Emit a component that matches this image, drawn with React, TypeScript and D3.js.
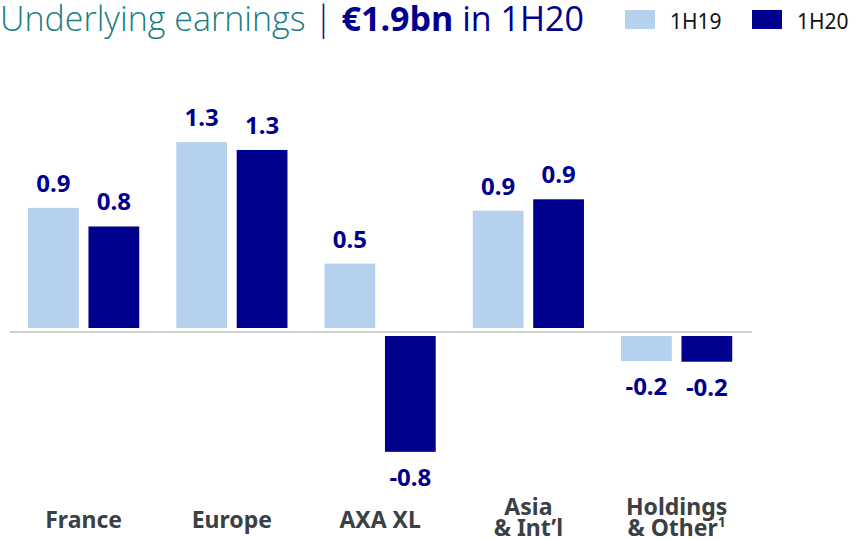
import { useEffect } from "react";
import * as d3 from "d3";

const categories = ["France", "Europe", "AXA XL", "Asia\n& Int\u2019l", "Holdings\n& Other"];
const seriesNames = ["1H19", "1H20"];
const values1H19 = [0.84, 1.3, 0.45, 0.82, -0.175];
const values1H20 = [0.71, 1.245, -0.81, 0.9, -0.18];
const labels1H19 = ["0.9", "1.3", "0.5", "0.9", "-0.2"];
const labels1H20 = ["0.8", "1.3", "-0.8", "0.9", "-0.2"];

const colors = ["#b6d1ee", "#00008f"];
const labelFont = "'Noto Sans', sans-serif";

export default function App() {
  useEffect(() => {
    document.body.style.margin = "0";
  }, []);

  const width = 855;
  const height = 539;
  const gapBar = 4; // bars float a little off the zero line

  const x0 = d3.scaleBand<string>().domain(categories).range([9.5, 750.75]).paddingInner(0.25).paddingOuter(0.125);
  const x1 = d3.scaleBand<string>().domain(seriesNames).range([0, x0.bandwidth()]).paddingInner(0.16);
  const y = d3.scaleLinear().domain([0, 1]).range([332, 189]);

  const rows = categories.map((c, i) => ({
    cat: c,
    bars: [
      { s: seriesNames[0], v: values1H19[i], label: labels1H19[i] },
      { s: seriesNames[1], v: values1H20[i], label: labels1H20[i] },
    ],
  }));

  return (
    <svg width={width} height={height} style={{ display: "block" }}>
      {/* title */}
      <text x={0} y={31} fontFamily="'Open Sans', sans-serif" fontSize={34}>
        <tspan fill="#1a7d85" fontWeight={300}>Underlying earnings </tspan>
        <tspan fill="#00008f" fontWeight={300}>| </tspan>
        <tspan fill="#00008f" fontWeight={700}>€1.9bn</tspan>
        <tspan fill="#00008f" fontWeight={400}> in 1H20</tspan>
      </text>

      {/* legend */}
      {seriesNames.map((s, i) => (
        <g key={s} transform={`translate(${625 + i * 127},10)`}>
          <rect width={30} height={19} fill={colors[i]} />
          <text x={45} y={19} fontFamily={labelFont} fontSize={21} fill="#111">{s}</text>
        </g>
      ))}

      {/* zero line */}
      <line x1={10} x2={752} y1={y(0)} y2={y(0)} stroke="#c0c0c0" strokeWidth={1.5} />

      {rows.map((r) => (
        <g key={r.cat} transform={`translate(${x0(r.cat)},0)`}>
          {r.bars.map((b, j) => {
            const bx = x1(b.s)!;
            const bw = x1.bandwidth();
            const pos = b.v >= 0;
            const top = pos ? y(b.v) - gapBar : y(0) + gapBar;
            const h = Math.abs(y(b.v) - y(0));
            return (
              <g key={b.s}>
                <rect x={bx} y={top} width={bw} height={h} fill={colors[j]} />
                <text
                  x={bx + bw / 2}
                  y={pos ? top - 16 : top + h + 34}
                  textAnchor="middle"
                  fontFamily={labelFont}
                  fontWeight={700}
                  fontSize={24}
                  fill="#00008f"
                >
                  {b.label}
                </text>
              </g>
            );
          })}
          {(() => {
            const lines = r.cat.split("\n");
            const cx = x0.bandwidth() / 2;
            const baseY = lines.length === 1 ? 528 : 515;
            return (
              <text textAnchor="middle" fontFamily={labelFont} fontWeight={700} fontSize={23} fill="#3a4044">
                {lines.map((l, k) => (
                  <tspan key={k} x={cx} y={baseY + k * 21}>
                    {l}
                    {r.cat.startsWith("Holdings") && k === 1 ? (
                      <tspan fontSize={14} dy={-9}>1</tspan>
                    ) : null}
                  </tspan>
                ))}
              </text>
            );
          })()}
        </g>
      ))}
    </svg>
  );
}
